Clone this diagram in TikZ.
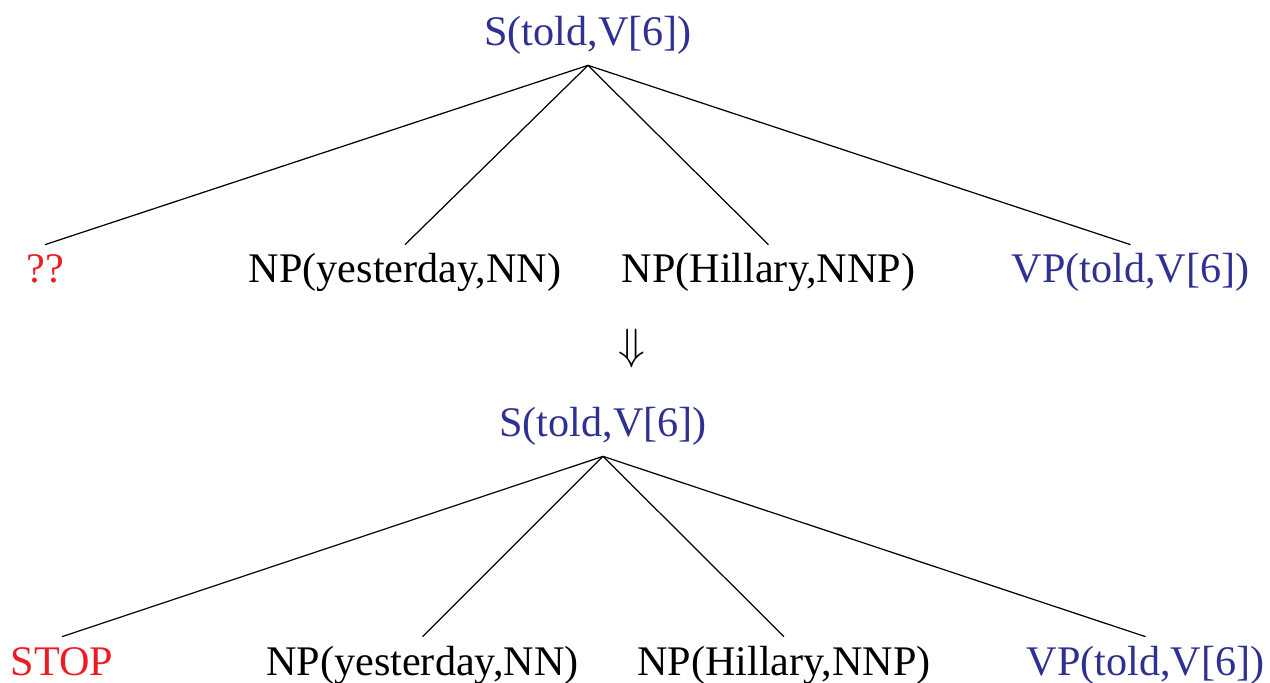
\documentclass[tikz,border=0pt]{standalone}
\usepackage{fontspec}
\setmainfont{Liberation Serif}
\definecolor{headblue}{RGB}{46,49,146}
\definecolor{stopred}{RGB}{237,28,36}

\begin{document}
\begin{tikzpicture}[
    every node/.style={font=\fontsize{24}{28}\selectfont, text height=0.6cm, text depth=0.15cm, inner xsep=0pt},
    rootnode/.style={anchor=base, text=headblue, inner ysep=0.23cm},
    leafnode/.style={anchor=base, inner ysep=0.16cm},
    branch/.style={line width=0.7pt}
    ]
    \useasboundingbox (0,0) rectangle (25.4,-13.66);

    % before
    \node [rootnode] (r1) at (11.76,-0.92) {S(told,V[6])};
    \node [leafnode,text=stopred] (a1) at (0.9,-5.66) {??};
    \node [leafnode] (a2) at (8.1,-5.66) {NP(yesterday,NN)};
    \node [leafnode] (a3) at (15.37,-5.66) {NP(Hillary,NNP)};
    \node [leafnode,text=headblue] (a4) at (22.61,-5.66) {VP(told,V[6])};
    \draw [branch] (r1.south) edge (a1.north);
    \draw [branch] (r1.south) edge (a2.north);
    \draw [branch] (r1.south) edge (a3.north);
    \draw [branch] (r1.south) edge (a4.north);

    \node [inner sep=0pt, text height=, text depth=] (arr) at (12.64,-6.98) {$\Downarrow$};

    % after
    \node [rootnode] (r2) at (12.06,-8.74) {S(told,V[6])};
    \node [leafnode,text=stopred] (b1) at (1.24,-13.5) {STOP};
    \node [leafnode] (b2) at (8.45,-13.5) {NP(yesterday,NN)};
    \node [leafnode] (b3) at (15.68,-13.5) {NP(Hillary,NNP)};
    \node [leafnode,text=headblue] (b4) at (22.91,-13.5) {VP(told,V[6])};
    \draw [branch] (r2.south) edge (b1.north);
    \draw [branch] (r2.south) edge (b2.north);
    \draw [branch] (r2.south) edge (b3.north);
    \draw [branch] (r2.south) edge (b4.north);
\end{tikzpicture}
\end{document}
